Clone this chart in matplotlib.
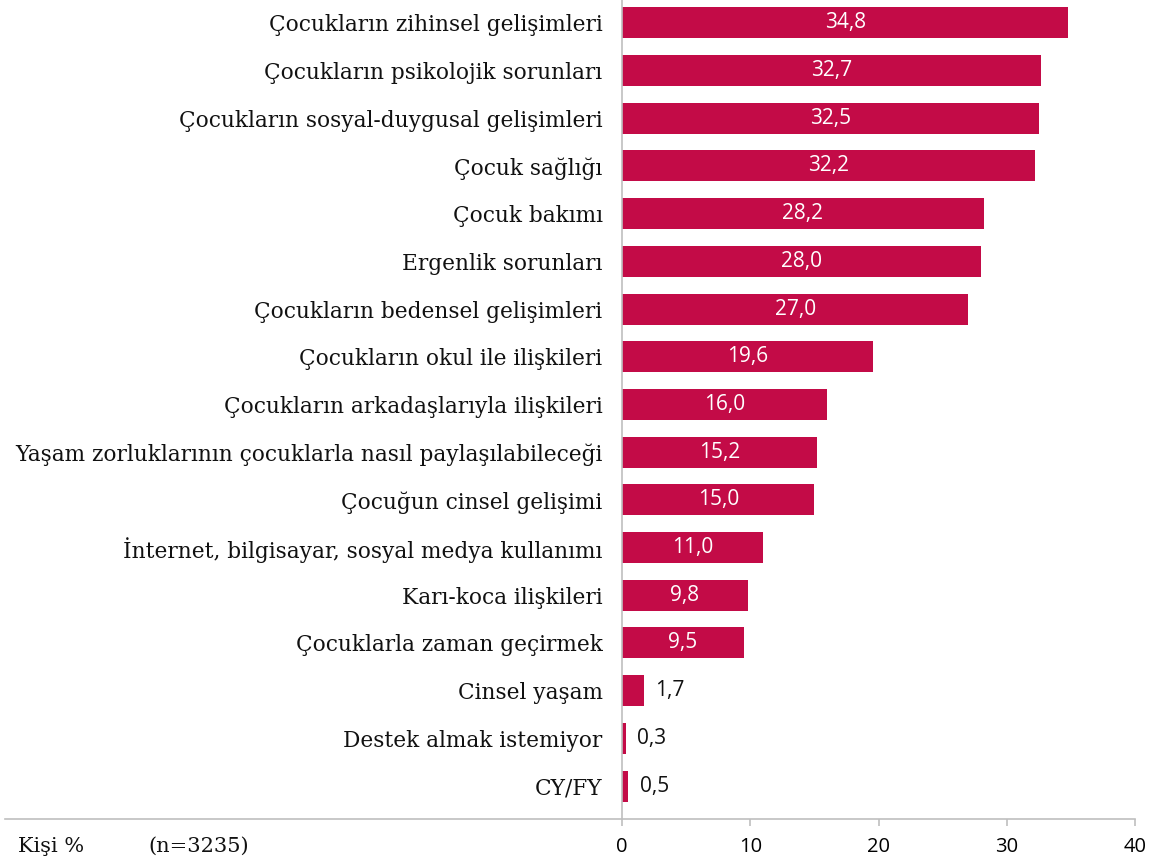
import numpy as np
import matplotlib.pyplot as plt
from matplotlib.lines import Line2D

# Veriler
kategoriler = ['Çocukların zihinsel gelişimleri', 'Çocukların psikolojik sorunları',
               'Çocukların sosyal-duygusal gelişimleri', 'Çocuk sağlığı', 'Çocuk bakımı',
               'Ergenlik sorunları', 'Çocukların bedensel gelişimleri', 'Çocukların okul ile ilişkileri',
               'Çocukların arkadaşlarıyla ilişkileri',
               'Yaşam zorluklarının çocuklarla nasıl paylaşılabileceği', 'Çocuğun cinsel gelişimi',
               'İnternet, bilgisayar, sosyal medya kullanımı', 'Karı-koca ilişkileri',
               'Çocuklarla zaman geçirmek', 'Cinsel yaşam', 'Destek almak istemiyor', 'CY/FY']
degerler = [34.8, 32.7, 32.5, 32.2, 28.2, 28.0, 27.0, 19.6, 16.0, 15.2, 15.0, 11.0, 9.8, 9.5, 1.7, 0.3, 0.5]
xticks = [0, 10, 20, 30, 40]

cor = '#C30B47'
cinza = '#BFBFBF'
fonte_rotulo = 'DejaVu Serif'
fonte_valor = 'Open Sans'

fig = plt.figure(figsize=(11.53, 8.6), dpi=100)
ax = fig.add_axes([622 / 1153, 1 - 819 / 860, (1135 - 622) / 1153, 819 / 860])

y = np.arange(len(kategoriler))
ax.barh(y, degerler, height=0.65, color=cor)
ax.set_ylim(len(kategoriler) - 1 + 0.69, -0.48)
ax.set_xlim(0, 40)

for i, v in enumerate(degerler):
    txt = '{:.1f}'.format(v).replace('.', ',')
    if v > 5:
        ax.text(v / 2, i, txt, ha='center', va='center', color='white', fontsize=15, family=fonte_valor)
    else:
        ax.text(v + 0.9, i, txt, ha='left', va='center', color='#111111', fontsize=15, family=fonte_valor)

ax.set_yticks(y)
ax.set_yticklabels(kategoriler, fontsize=15.6, family=fonte_rotulo, color='#111111')
ax.tick_params(axis='y', length=0, pad=14)
ax.set_xticks(xticks)
ax.set_xticklabels([str(t) for t in xticks], fontsize=14.5, family=fonte_valor)
ax.tick_params(axis='x', length=5, color=cinza, width=1.2, pad=8)

for s in ['top', 'right']:
    ax.spines[s].set_visible(False)
ax.spines['left'].set_color(cinza)
ax.spines['left'].set_linewidth(1.2)
ax.spines['bottom'].set_color(cinza)
ax.spines['bottom'].set_linewidth(1.2)

# linha de base estendida para a esquerda
yb = 1 - 819 / 860
fig.add_artist(Line2D([5 / 1153, 622 / 1153], [yb, yb], color=cinza, lw=1.2))

fig.text(18 / 1153, 1 - 846 / 860, 'Kişi %', fontsize=15, family=fonte_rotulo, va='center', color='#111111')
fig.text(148 / 1153, 1 - 846 / 860, '(n=3235)', fontsize=15, family=fonte_rotulo, va='center', color='#111111')

fig.savefig('out.png', dpi=100)
